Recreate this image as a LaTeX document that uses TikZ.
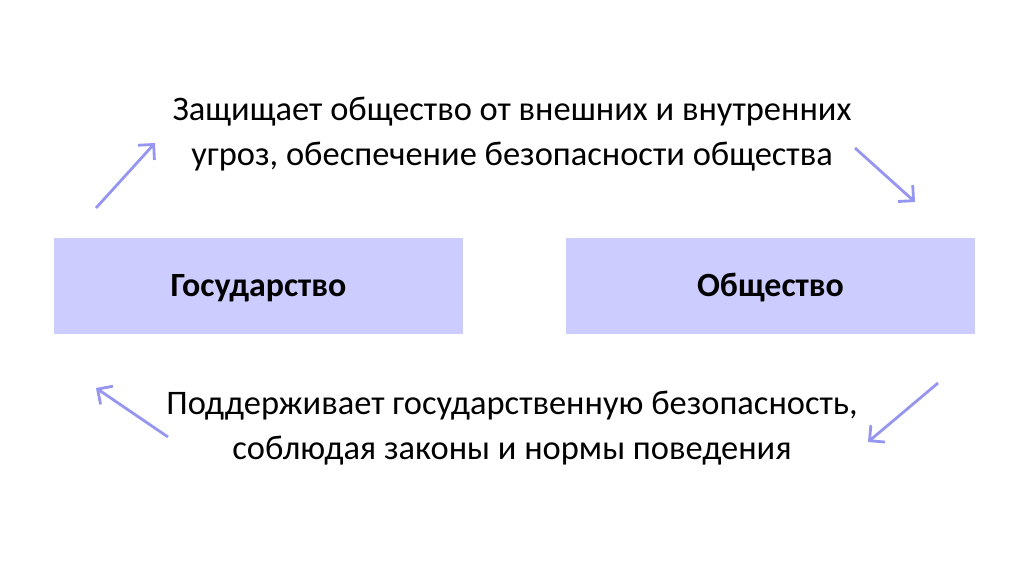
\documentclass[tikz,border=0pt]{standalone}
\usepackage{fontspec}
\setmainfont{Carlito}
\usetikzlibrary{arrows.meta, positioning}

\begin{document}
\begin{tikzpicture}[x=0.02cm, y=-0.02cm]
	\tikzstyle{Box} = [rectangle, minimum width=8.18cm, minimum height=1.92cm, text height=0.56cm, text depth=0.14cm, text centered, fill=boxfill, font=\fontsize{19.3}{23}\selectfont\bfseries]
	\tikzstyle{Text} = [align=center, font=\fontsize{19.6}{25.5}\selectfont]
	\tikzstyle{arrow} = [line width=1.6pt, draw=arrowblue, -{Straight Barb[length=2.2mm, width=4.4mm]}]
	\colorlet{boxfill}{blue!20}
	\definecolor{arrowblue}{RGB}{150,150,240}

	\useasboundingbox (0,0) rectangle (1024,574);
	\node (state) [Box] at (258.5,286) {Государство};
	\node (society) [Box] at (770.5,286) {Общество};
	\node (protect) [Text] at (512,134) {Защищает общество от внешних и внутренних\\угроз, обеспечение безопасности общества};
	\node (support) [Text] at (512,428) {Поддерживает государственную безопасность,\\соблюдая законы и нормы поведения};

	\coordinate (a1) at (96,208);  \coordinate (b1) at (155,143);
	\coordinate (a2) at (855,148); \coordinate (b2) at (915,202);
	\coordinate (a3) at (938,383); \coordinate (b3) at (868,442);
	\coordinate (a4) at (168,437); \coordinate (b4) at (96,388);
	\draw [arrow] (a1) -- (b1);
	\draw [arrow] (a2) -- (b2);
	\draw [arrow] (a3) -- (b3);
	\draw [arrow] (a4) -- (b4);
\end{tikzpicture}
\end{document}
